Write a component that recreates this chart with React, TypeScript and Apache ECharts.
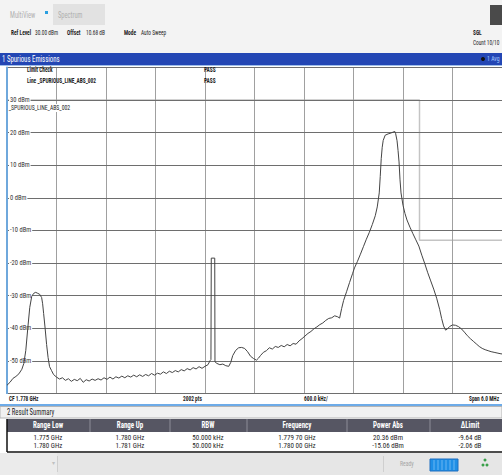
import React, { useEffect, useRef } from 'react';
import * as echarts from 'echarts';

// Frequency offset from 1.775 GHz start (MHz), span 6 MHz, CF 1.778 GHz
const freqOffsetMHz = [
  0, 0.036, 0.072, 0.108, 0.144, 0.18, 0.204, 0.228, 0.252, 0.276,
  0.3, 0.324, 0.348, 0.372, 0.396, 0.42, 0.432, 0.444, 0.462, 0.48,
  0.498, 0.516, 0.54, 0.564, 0.6, 0.636, 0.672, 0.708, 0.744, 0.78,
  0.816, 0.852, 0.888, 0.924, 0.96, 0.996, 1.032, 1.068, 1.104, 1.14,
  1.176, 1.212, 1.248, 1.284, 1.32, 1.356, 1.392, 1.428, 1.464, 1.5,
  1.536, 1.572, 1.608, 1.644, 1.68, 1.716, 1.752, 1.788, 1.824, 1.86,
  1.896, 1.932, 1.968, 2.004, 2.04, 2.076, 2.112, 2.148, 2.184, 2.22,
  2.256, 2.292, 2.328, 2.364, 2.4, 2.436, 2.46, 2.472, 2.476, 2.518,
  2.521, 2.544, 2.58, 2.616, 2.652, 2.688, 2.712, 2.736, 2.772, 2.808,
  2.844, 2.88, 2.916, 2.952, 2.988, 3.024, 3.048, 3.072, 3.108, 3.144,
  3.18, 3.216, 3.252, 3.288, 3.324, 3.36, 3.396, 3.432, 3.468, 3.504,
  3.54, 3.576, 3.612, 3.648, 3.684, 3.72, 3.756, 3.792, 3.828, 3.864,
  3.9, 3.936, 3.972, 4.008, 4.032, 4.056, 4.08, 4.116, 4.152, 4.188,
  4.212, 4.248, 4.284, 4.32, 4.356, 4.392, 4.428, 4.464, 4.488, 4.512,
  4.524, 4.536, 4.548, 4.56, 4.584, 4.62, 4.656, 4.7, 4.71, 4.728,
  4.74, 4.752, 4.764, 4.776, 4.8, 4.824, 4.848, 4.884, 4.92, 4.956,
  4.992, 5.028, 5.064, 5.1, 5.136, 5.172, 5.208, 5.244, 5.268, 5.292,
  5.316, 5.34, 5.364, 5.4, 5.436, 5.472, 5.508, 5.544, 5.58, 5.616,
  5.652, 5.688, 5.724, 5.76, 5.796, 5.832, 5.868, 5.904, 5.94, 5.976, 6.0,
];

const levelDbm = [
  -57.5, -56.6, -55.4, -54.8, -54.0, -52.6, -50.8, -46.8, -40.0, -33.6,
  -30.2, -29.3, -29.0, -29.3, -29.6, -30.6, -32.5, -35.5, -40.0, -45.0,
  -49.0, -51.8, -53.0, -54.2, -55.0, -55.6, -55.2, -56.0, -55.5, -56.3,
  -55.7, -56.1, -55.4, -56.6, -55.8, -56.2, -55.6, -56.0, -55.5, -55.9,
  -55.2, -55.7, -55.0, -55.6, -54.9, -55.3, -54.7, -55.2, -54.6, -55.0,
  -54.4, -54.9, -54.3, -54.8, -54.2, -54.6, -53.9, -54.4, -53.8, -54.1,
  -53.4, -53.9, -53.2, -53.6, -53.0, -53.4, -52.7, -53.1, -52.4, -52.8,
  -52.1, -52.5, -51.8, -52.3, -51.7, -51.2, -50.0, -49.6, -18.5, -18.5,
  -50.3, -50.8, -51.2, -51.0, -51.5, -51.7, -50.5, -48.4, -46.8, -46.0,
  -45.9, -46.2, -47.2, -48.6, -49.3, -49.8, -49.2, -48.4, -47.4, -46.9,
  -46.0, -46.4, -45.6, -45.9, -45.3, -45.7, -45.0, -45.4, -44.7, -44.9,
  -43.9, -43.2, -42.4, -41.6, -41.0, -40.2, -39.6, -38.9, -38.4, -37.6,
  -37.0, -36.8, -36.2, -36.5, -36.9, -34.0, -31.5, -28.8, -26.0, -23.3,
  -21.5, -19.5, -17.3, -15.0, -12.7, -10.6, -8.2, -5.5, -2.8, 1.5,
  6.5, 12.0, 15.5, 17.6, 19.2, 19.6, 19.9, 20.36, 19.8, 17.5,
  14.5, 11.0, 5.5, 1.5, -2.3, -4.8, -6.8, -9.0, -11.0, -12.9,
  -14.8, -17.6, -20.2, -23.0, -25.5, -28.0, -30.8, -34.2, -37.0, -39.3,
  -40.6, -40.2, -39.5, -39.0, -39.1, -39.5, -40.2, -41.2, -42.3, -43.2,
  -44.0, -44.8, -45.6, -46.2, -46.6, -46.9, -47.2, -47.4, -47.6, -47.8, -47.9,
];

const limitOffsetMHz = [0, 5, 5, 6];
const limitDbm = [30, 30, -13, -13];

const hiddenTicks = [40, -60];

const resultColumns = ['Range Low', 'Range Up', 'RBW', 'Frequency', 'Power Abs', '\u0394Limit'];
const resultRow1 = ['1.775 GHz', '1.780 GHz', '50.000 kHz', '1.779 70 GHz', '20.36 dBm', '-9.64 dB'];
const resultRow2 = ['1.780 GHz', '1.781 GHz', '50.000 kHz', '1.780 00 GHz', '-15.06 dBm', '-2.06 dB'];

const FONT = "'Liberation Sans Narrow', 'Arial Narrow', 'Roboto Condensed', 'Liberation Sans', sans-serif";

function txt(x: number, y: number, text: string, o: any = {}) {
  const align = o.align || 'left';
  return {
    type: 'text',
    x,
    y,
    scaleX: o.sx || 0.72,
    z: 100,
    silent: true,
    style: {
      text,
      fill: o.fill || '#1e1e1e',
      fontSize: o.size || 7.5,
      fontWeight: o.bold ? 'bold' : 'normal',
      fontFamily: FONT,
      textAlign: align,
      align,
      textVerticalAlign: 'middle',
      verticalAlign: 'middle',
      backgroundColor: o.bg,
      padding: o.bg ? [0, 1] : undefined,
    },
  };
}

function rect(x: number, y: number, w: number, h: number, fill: string, stroke?: string, z = 90) {
  return {
    type: 'rect',
    z,
    silent: true,
    shape: { x, y, width: w, height: h },
    style: { fill, stroke: stroke || 'none', lineWidth: stroke ? 1 : 0 },
  };
}

function line(x1: number, y1: number, x2: number, y2: number, stroke: string, lw = 1, z = 95) {
  return {
    type: 'line',
    z,
    silent: true,
    shape: { x1, y1, x2, y2 },
    style: { stroke, lineWidth: lw },
  };
}

export default function App() {
  const ref = useRef<HTMLDivElement>(null);

  useEffect(() => {
    if (!ref.current) return;
    const chart = echarts.init(ref.current, undefined, { renderer: 'svg' });

    const colCenters = [48, 130, 208, 297, 388, 470];
    const colSeps = [90, 170, 247, 347, 430];

    const g: any[] = [];
    // top header
    g.push(rect(0, 0, 502, 53, '#f3f3f3'));
    g.push(rect(53, 4, 52, 21, '#e2e2e2'));
    g.push(txt(10, 15, 'MultiView', { fill: '#b0b0b0', size: 9 }));
    g.push(rect(45, 11, 3, 3, '#2a9fe0', undefined, 96));
    g.push(txt(58, 15, 'Spectrum', { fill: '#b0b0b0', size: 9 }));
    g.push(txt(11, 33, 'Ref Level', { bold: true }));
    g.push(txt(35, 33, '30.00 dBm'));
    g.push(txt(67, 33, 'Offset', { bold: true }));
    g.push(txt(86, 33, '10.68 dB'));
    g.push(txt(124, 33, 'Mode', { bold: true }));
    g.push(txt(141, 33, 'Auto Sweep'));
    g.push(rect(490, 5, 12, 20, '#4a4a4a', undefined, 96));
    g.push(txt(473, 33, 'SGL', { bold: true }));
    g.push(txt(473, 43, 'Count 10/10'));
    // blue title bar
    g.push(rect(0, 53, 502, 12, '#2346b4', undefined, 96));
    g.push(line(0, 65.5, 502, 65.5, '#9dbdea', 1, 97));
    g.push(txt(2, 59, '1 Spurious Emissions', { fill: '#ffffff', size: 8.5, sx: 0.8 }));
    g.push({ type: 'circle', z: 100, silent: true, shape: { cx: 483, cy: 59, r: 2 }, style: { fill: '#111' } });
    g.push(txt(487, 59, '1 Avg', { fill: '#a8c8ff', size: 8 }));
    // limit check table (overlaid on diagram)
    g.push(txt(27, 70, 'Limit Check', { bold: true }));
    g.push(txt(27, 81, 'Line _SPURIOUS_LINE_ABS_002', { bold: true }));
    g.push(txt(204, 70, 'PASS', { bold: true }));
    g.push(txt(204, 81, 'PASS', { bold: true }));
    g.push(txt(8, 108, '_SPURIOUS_LINE_ABS_002', { bg: '#ffffff', size: 8 }));
    // bottom info strip
    g.push(rect(0, 394, 502, 10, '#ffffff'));
    g.push(txt(9, 399, 'CF 1.778 GHz', { bold: true }));
    g.push(txt(183, 399, '2002 pts', { bold: true }));
    g.push(txt(304, 399, '600.0 kHz/', { bold: true }));
    g.push(txt(469, 399, 'Span 6.0 MHz', { bold: true }));
    g.push(line(0, 405, 502, 405, '#3d8fe0', 1.5));
    // result summary
    g.push(rect(0, 406.5, 502, 11.5, '#f1f1f1', '#b5b5b5'));
    g.push(txt(7, 412, '2 Result Summary', { size: 8.5, sx: 0.78 }));
    g.push(rect(7, 419, 495, 13, '#565663'));
    colSeps.forEach((x) => g.push(line(x, 419, x, 432, '#8c8c98', 1)));
    resultColumns.forEach((c, i) => g.push(txt(colCenters[i], 425.5, c, { bold: true, fill: '#ffffff', align: 'center', size: 8.5, sx: 0.82 })));
    g.push(rect(7, 432, 495, 20, '#ffffff'));
    resultRow1.forEach((c, i) => g.push(txt(colCenters[i], 437, c, { align: 'center', size: 7.8, sx: 0.9 })));
    resultRow2.forEach((c, i) => g.push(txt(colCenters[i], 445, c, { align: 'center', size: 7.8, sx: 0.9 })));
    g.push(line(7, 419, 7, 452, '#111', 1.5));
    g.push(line(7, 452, 502, 452, '#111', 1.5));
    // status bar
    g.push(rect(0, 453, 502, 22, '#e6e6e6'));
    g.push(rect(0, 453, 57, 22, '#ebebeb'));
    g.push(line(57.5, 456, 57.5, 472, '#cfcfcf', 1));
    g.push(txt(53, 462, '\u25BE', { fill: '#c0c0c0', size: 6, align: 'center', sx: 1 }));
    g.push(line(383.5, 456, 383.5, 472, '#cfcfcf', 1));
    g.push(txt(400, 464, 'Ready', { fill: '#a5a5a5', size: 8 }));
    g.push(rect(430, 459, 28, 12, '#1f8fe6', '#1f6fc0'));
    [434, 438, 442, 446, 450, 454].forEach((x) => g.push(line(x, 460, x, 470, '#7fc0f5', 0.8, 97)));
    g.push({ type: 'circle', z: 100, silent: true, shape: { cx: 485, cy: 460, r: 1.5 }, style: { fill: '#3aa04a' } });
    g.push({ type: 'circle', z: 100, silent: true, shape: { cx: 483, cy: 465, r: 1.5 }, style: { fill: '#3aa04a' } });
    g.push({ type: 'circle', z: 100, silent: true, shape: { cx: 487, cy: 465, r: 1.5 }, style: { fill: '#3aa04a' } });

    const trace = freqOffsetMHz.map((f, i) => [f, levelDbm[i]]);
    const limit = limitOffsetMHz.map((f, i) => [f, limitDbm[i]]);

    chart.setOption({
      animation: false,
      backgroundColor: '#ffffff',
      grid: { left: 7, top: 67.4, width: 500, height: 326, containLabel: false },
      xAxis: {
        type: 'value',
        min: 0,
        max: 6,
        interval: 0.6,
        axisLabel: { show: false },
        axisTick: { show: false },
        axisLine: { show: false },
        splitLine: { show: true, lineStyle: { color: '#a0a0a0', width: 1 } },
      },
      yAxis: {
        type: 'value',
        min: -60,
        max: 40,
        interval: 10,
        axisTick: { show: false },
        axisLine: { show: true, lineStyle: { color: '#6fa8dc', width: 2 } },
        splitLine: { show: true, lineStyle: { color: '#6e6e6e', width: 1 } },
        axisLabel: {
          inside: true,
          margin: 2,
          fontSize: 6.5,
          fontFamily: FONT,
          color: '#333',
          backgroundColor: '#ffffff',
          padding: [0, 1],
          formatter: (v: number) => (hiddenTicks.includes(v) ? '' : `${v} dBm`),
        },
        z: 3,
      },
      series: [
        {
          type: 'line',
          name: 'Limit',
          data: limit,
          z: -1,
          showSymbol: false,
          symbol: 'none',
          lineStyle: { color: '#c4c4c4', width: 1.5 },
          silent: true,
        },
        {
          type: 'line',
          name: 'Trace',
          data: trace,
          showSymbol: false,
          symbol: 'none',
          lineStyle: { color: '#444444', width: 1 },
          silent: true,
        },
      ],
      graphic: g,
    });

    return () => chart.dispose();
  }, []);

  return (
    <div
      ref={ref}
      style={{ position: 'absolute', left: 0, top: 0, width: 502, height: 475, background: '#fff' }}
    />
  );
}
